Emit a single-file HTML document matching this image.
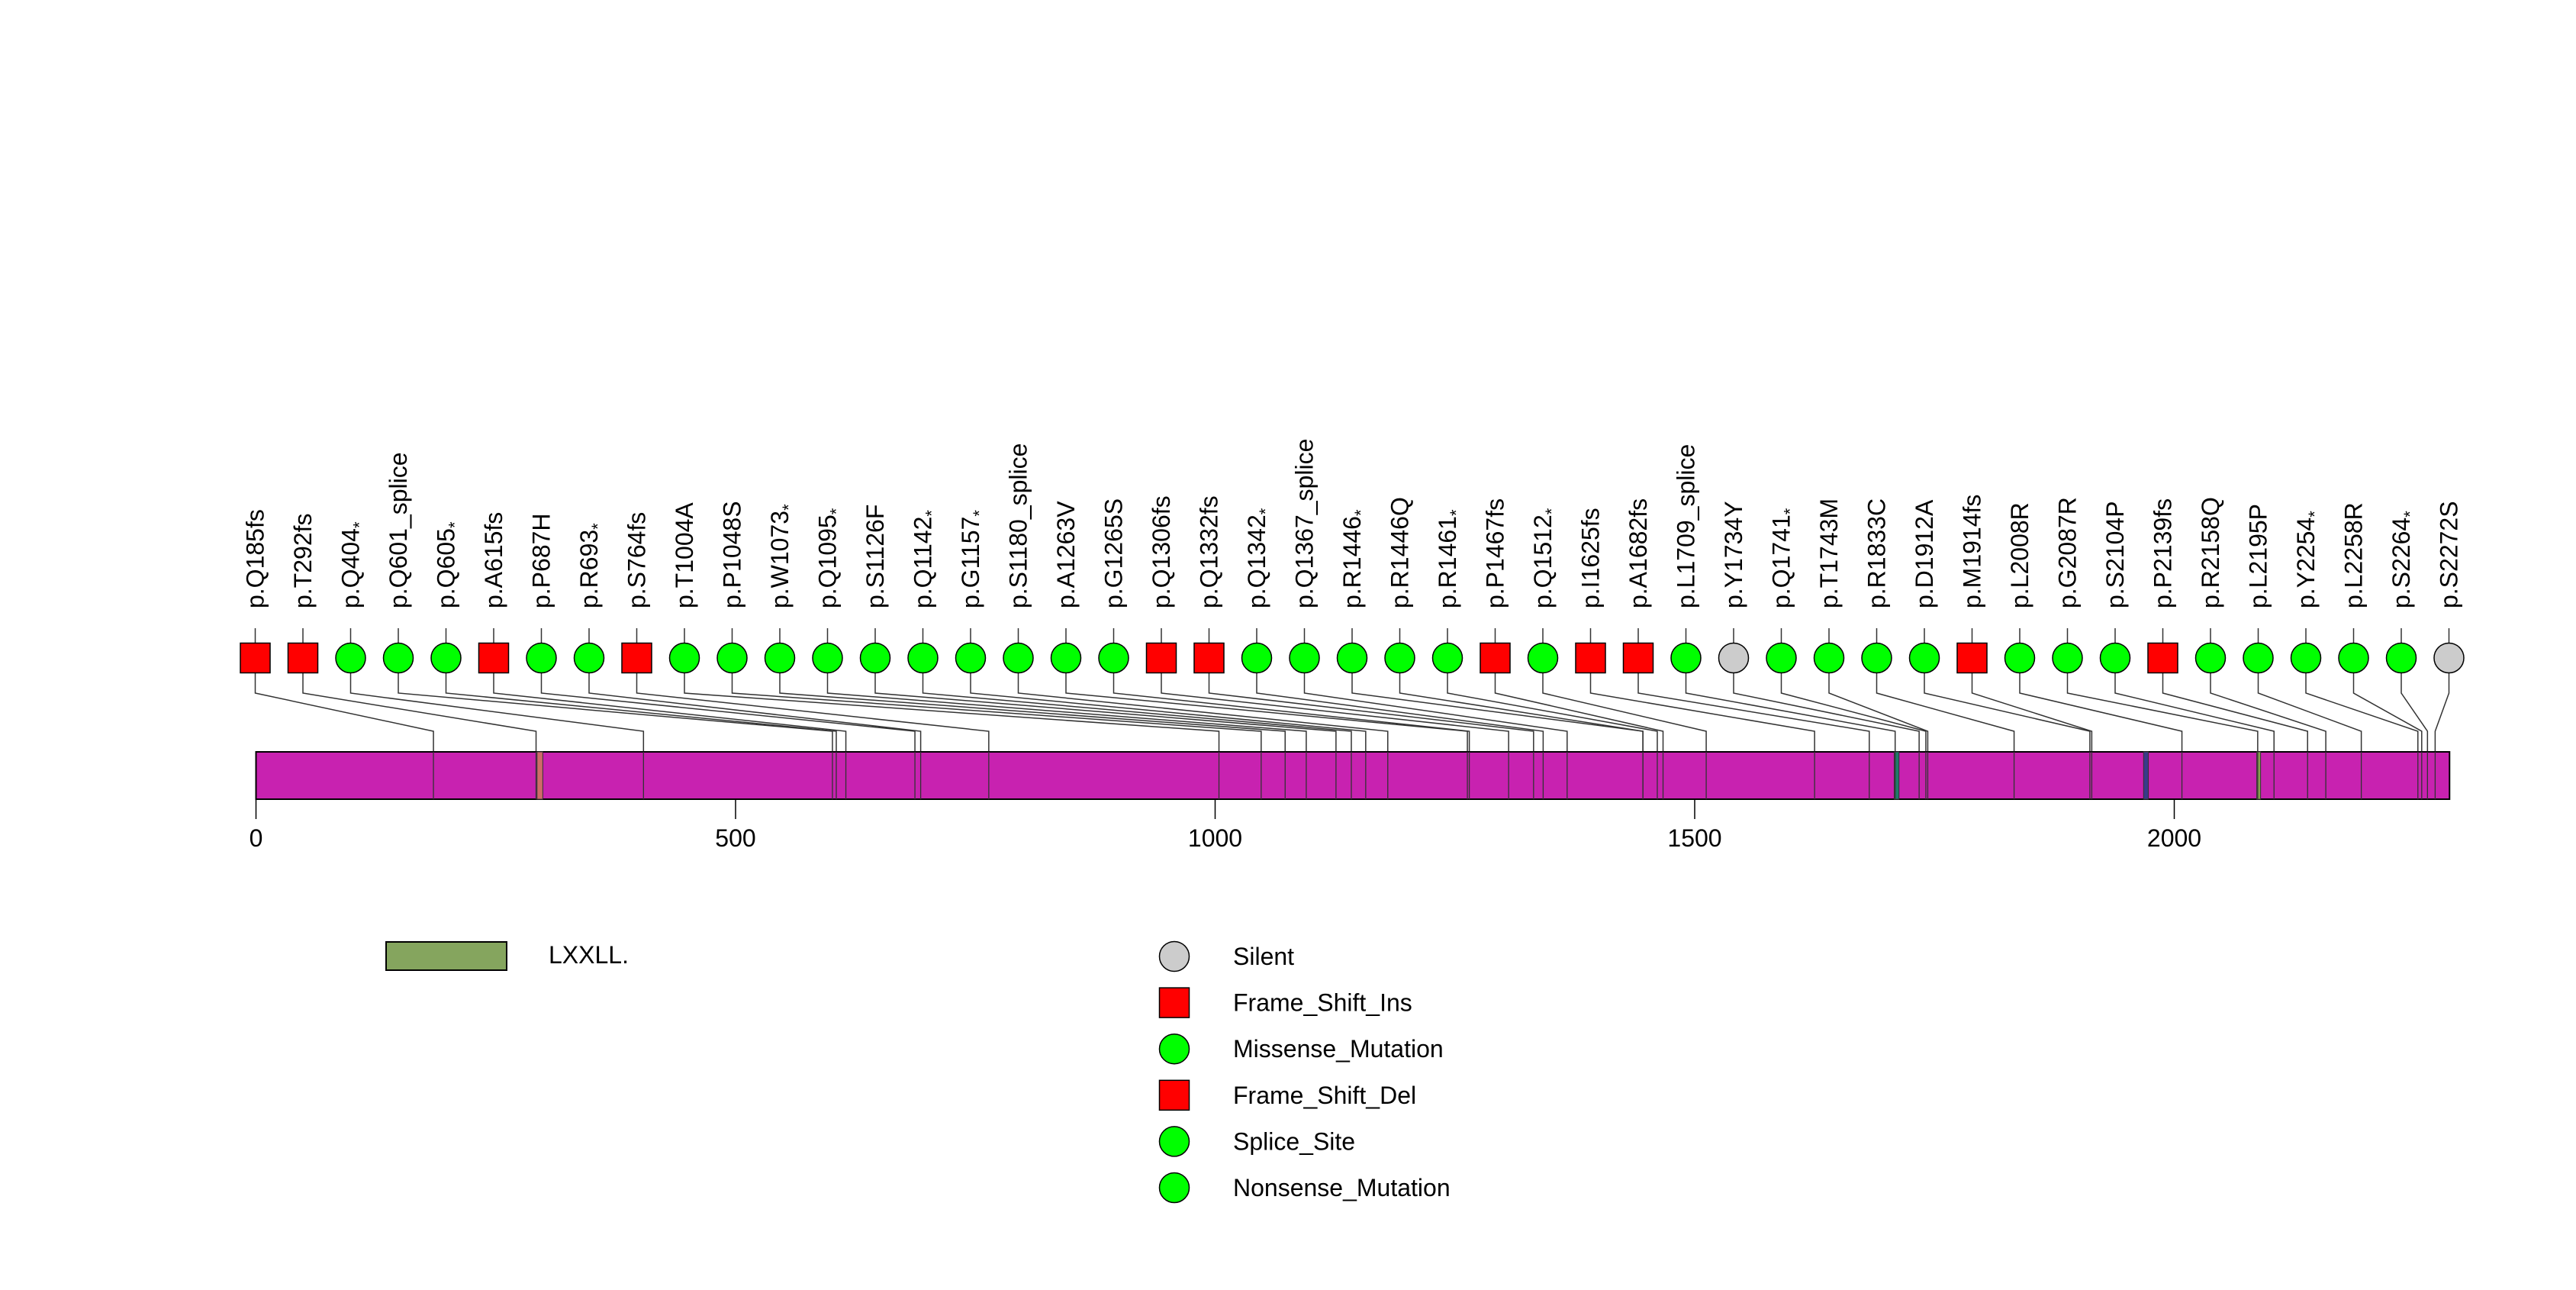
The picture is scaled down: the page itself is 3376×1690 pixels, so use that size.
<!DOCTYPE html>
<html><head><meta charset="utf-8"><style>html,body{margin:0;padding:0;background:#fff}svg{display:block}</style></head>
<body>
<svg id="chart" width="3376" height="1690" viewBox="0 0 3376 1690" xmlns="http://www.w3.org/2000/svg" font-family="Liberation Sans, sans-serif">
<g id="conn"></g>
<rect id="protein" fill="#c822b0" stroke="#000" stroke-width="2"></rect>
<g id="domains"></g>
<g id="cuts"></g>
<g id="markers"></g>
<g id="labels"></g>
<g id="axis"></g>
<g>
<rect x="506" y="1234" width="158" height="37" fill="#85a55e" stroke="#000" stroke-width="2"/>
<text x="719" y="1262" font-size="32">LXXLL.</text>
</g>
<g id="legend"></g>
</svg>
<script>
const proteinLength = 2287;
const positions = [185,292,404,601,605,615,687,693,764,1004,1048,1073,1095,1126,1142,1157,1180,1263,1265,1306,1332,1342,1367,1446,1446,1461,1467,1512,1625,1682,1709,1734,1741,1743,1833,1912,1914,2008,2087,2104,2139,2158,2195,2254,2258,2264,2272];
const labels = ["p.Q185fs","p.T292fs","p.Q404*","p.Q601_splice","p.Q605*","p.A615fs","p.P687H","p.R693*","p.S764fs","p.T1004A","p.P1048S","p.W1073*","p.Q1095*","p.S1126F","p.Q1142*","p.G1157*","p.S1180_splice","p.A1263V","p.G1265S","p.Q1306fs","p.Q1332fs","p.Q1342*","p.Q1367_splice","p.R1446*","p.R1446Q","p.R1461*","p.P1467fs","p.Q1512*","p.I1625fs","p.A1682fs","p.L1709_splice","p.Y1734Y","p.Q1741*","p.T1743M","p.R1833C","p.D1912A","p.M1914fs","p.L2008R","p.G2087R","p.S2104P","p.P2139fs","p.R2158Q","p.L2195P","p.Y2254*","p.L2258R","p.S2264*","p.S2272S"];
const types = ["fs","fs","c","c","c","fs","c","c","fs","c","c","c","c","c","c","c","c","c","c","fs","fs","c","c","c","c","c","fs","c","fs","fs","c","s","c","c","c","c","fs","c","c","c","fs","c","c","c","c","c","s"];
const domainStarts = [293,1708,1968,2086];
const domainEnds = [299,1713,1973,2090];
const domainColors = ["#d06a6a","#1f7a6a","#3a3a8a","#8aa050"];
const tickValues = [0,500,1000,1500,2000];
const legendNames = ["Silent","Frame_Shift_Ins","Missense_Mutation","Frame_Shift_Del","Splice_Site","Nonsense_Mutation"];
const legendTypes = ["s","fs","c","fs","c","c"];

const NS="http://www.w3.org/2000/svg";
const X0=335.5, PX=1.257;
const xScale=v=>X0+v*PX;
const BT=985, BB=1047, MY=862, MS=39;
const mX0=334.5, mX1=3209.5;
const slotX=i=>mX0+(mX1-mX0)*i/(positions.length-1);
function mk(tag,attrs,parent){const e=document.createElementNS(NS,tag);for(const k in attrs)e.setAttribute(k,attrs[k]);parent.appendChild(e);return e;}
const colorOf=t=>t==="fs"?"#ff0000":t==="s"?"#cccccc":"#00ff00";
function marker(t,cx,cy,parent){
  if(t==="fs") return mk("rect",{x:cx-MS/2,y:cy-MS/2,width:MS,height:MS,fill:colorOf(t),stroke:"#000","stroke-width":1.5},parent);
  return mk("circle",{cx:cx,cy:cy,r:MS/2,fill:colorOf(t),stroke:"#000","stroke-width":1.5},parent);
}
const pr=document.getElementById('protein');
pr.setAttribute('x',xScale(0));pr.setAttribute('y',BT);pr.setAttribute('width',xScale(proteinLength)-xScale(0));pr.setAttribute('height',BB-BT);
const dg=document.getElementById('domains');
domainStarts.forEach((s,i)=>{const r=mk("rect",{x:xScale(s),y:BT,width:xScale(domainEnds[i])-xScale(s),height:BB-BT,fill:domainColors[i],stroke:"#333","stroke-width":1},dg);

});
const cg=document.getElementById('conn'), cu=document.getElementById('cuts'), mg=document.getElementById('markers'), lg=document.getElementById('labels');
positions.forEach((p,i)=>{
  const sx=slotX(i), px=xScale(p);
  const pl=mk("polyline",{points:`${sx},823 ${sx},843 M`.replace(' M','')+` ${sx},882 ${sx},908 ${px},958 ${px},${BT}`,fill:"none",stroke:"#333","stroke-width":1.5},cg);
  
  
  const ln=mk("line",{x1:px,y1:BT,x2:px,y2:BB,stroke:"#333","stroke-width":1.3},cu);
  
  
  const m=marker(types[i],sx,MY,mg);
  
  
  const lab=labels[i]; const star=lab.endsWith('*');
  const t=mk("text",{x:0,y:0,"font-size":32,transform:`translate(${sx+11},797) rotate(-90)`},lg);
  t.textContent=star?lab.slice(0,-1):lab;
  if(star){const ts=mk("tspan",{"font-size":22,dy:8},t);ts.textContent="*";}
  
  
});
const ag=document.getElementById('axis');
tickValues.forEach(v=>{
  const tl=mk("line",{x1:xScale(v),y1:BB,x2:xScale(v),y2:1073,stroke:"#000","stroke-width":1.5},ag);
  
  
  const tt=mk("text",{x:xScale(v),y:1109,"font-size":32,"text-anchor":"middle"},ag);
  tt.textContent=String(v);
  
  
});
const lgg=document.getElementById('legend');
legendNames.forEach((n,i)=>{
  const y=1253+i*60.6;
  const m=marker(legendTypes[i],1539,y,lgg);
  
  
  const t=mk("text",{x:1616,y:y+11,"font-size":32},lgg);
  t.textContent=n;
  
  
});
</script>
</body></html>
